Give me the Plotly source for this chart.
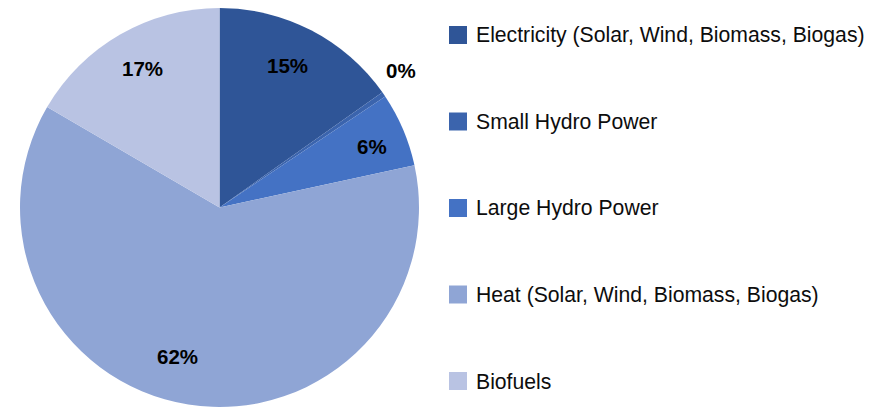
import math
import plotly.graph_objects as go

W, H = 881, 407
OFF = 8  # page body margin offset

labels = ["Electricity (Solar, Wind, Biomass, Biogas)", "Small Hydro Power",
          "Large Hydro Power", "Heat (Solar, Wind, Biomass, Biogas)", "Biofuels"]
values = [15.2, 0.4, 6.0, 61.8, 16.6]
colors = ["#2F5597", "#3B64AD", "#4472C4", "#8FA5D5", "#B9C3E3"]

# label placement style (radius fraction, angle nudge in degrees)
label_radius = [0.79, 1.14, 0.825, 0.775, 0.795]
label_nudge = [-2.0, -2.4, 1.3, 6.7, 1.0]

FONT = "Liberation Sans, Arial, sans-serif"

# pie geometry (pixels, figure coords)
cx, cy, R = 219.5 - OFF, 207.5 - OFF, 199.5
dom_x = [(cx - R) / W, (cx + R) / W]
dom_y = [max(0, 1 - (cy + R) / H), min(1, 1 - (cy - R) / H)]

fig = go.Figure(go.Pie(
    labels=labels, values=values, sort=False, direction="clockwise", rotation=0,
    marker=dict(colors=colors, line=dict(width=0)),
    textinfo="none", showlegend=False, domain=dict(x=dom_x, y=dom_y),
    hovertemplate="%{label}: %{percent}<extra></extra>",
))

annotations = []
shapes = []
total = sum(values)
cum = 0.0
for i, v in enumerate(values):
    frac = v / total
    mid = (cum + frac / 2) * 2 * math.pi + math.radians(label_nudge[i])
    cum += frac
    rf = label_radius[i]
    px = cx + rf * R * math.sin(mid)
    py = cy - rf * R * math.cos(mid)
    annotations.append(dict(
        x=px / W, y=1 - py / H, xref="paper", yref="paper", showarrow=False,
        text=f"<b>{round(frac * 100):.0f}%</b>",
        font=dict(family=FONT, size=20.5, color="#000000"),
        xanchor="center", yanchor="middle"))

# legend
leg_y0, leg_step = 35 - OFF, 86.5
for i, (lab, col) in enumerate(zip(labels, colors)):
    yc = leg_y0 + i * leg_step
    shapes.append(dict(type="rect", xref="paper", yref="paper",
                       x0=(449 - OFF) / W, x1=(467 - OFF) / W,
                       y0=1 - (yc + 9) / H, y1=1 - (yc - 9) / H,
                       fillcolor=col, line=dict(width=0)))
    annotations.append(dict(
        x=(474 - OFF) / W, y=1 - yc / H, xref="paper", yref="paper", showarrow=False,
        text=lab, font=dict(family=FONT, size=21.2, color="#0D0D0D"),
        xanchor="left", yanchor="middle"))

fig.update_layout(
    width=W, height=H, margin=dict(l=0, r=0, t=0, b=0),
    paper_bgcolor="white", plot_bgcolor="white",
    annotations=annotations, shapes=shapes,
)

fig.write_html("out.html")
